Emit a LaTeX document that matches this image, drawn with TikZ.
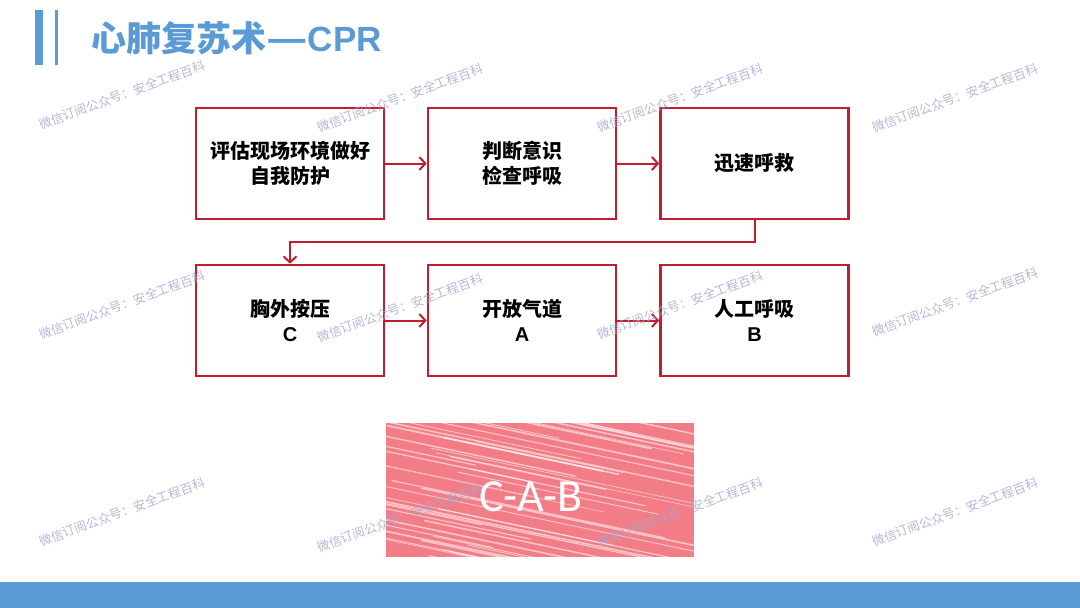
\documentclass[tikz,border=0pt]{standalone}
\usepackage{fontspec}
\setmainfont{Carlito}
\newfontfamily\cjk{Noto Sans CJK SC}
\newfontfamily\latinb{Liberation Sans}
\usetikzlibrary{arrows.meta}
\definecolor{boxred}{RGB}{190,30,45}
\definecolor{titleblue}{RGB}{91,155,213}
\definecolor{scribblepink}{RGB}{242,125,135}
\definecolor{wmcolor}{RGB}{165,165,205}
\begin{document}
\begin{tikzpicture}[x=1pt,y=-1pt,
  stepbox/.style={draw=boxred,line width=2.6pt,minimum width=188pt,minimum height=111pt,
    align=center,inner sep=0pt,font=\cjk\bfseries\fontsize{20}{25}\selectfont},
  link/.style={draw=boxred,line width=2pt,
    -{Straight Barb[length=6pt,width=13pt,line width=2pt]}},
  wmark/.style={text=wmcolor,font=\cjk\fontsize{12.5}{14}\selectfont,rotate=20,opacity=0.8}]
\useasboundingbox (0,0) rectangle (1080,608);
\fill[white] (0,0) rectangle (1080,608);

% header
\fill[titleblue] (35,10) rectangle (43,65);
\fill[titleblue] (54.5,10) rectangle (58,65);
\node[anchor=west,text=titleblue,inner sep=0pt,font=\cjk\bfseries\fontsize{35}{37}\selectfont] (title) at (91,38)
  {心肺复苏术\scalebox{1.3}[1]{—}{\latinb\bfseries\fontsize{35}{37}\selectfont CPR}};

% footer
\fill[titleblue] (0,582) rectangle (1080,608);

% boxes
\node[stepbox] (b1) at (290,163.5) {评估现场环境做好\\自我防护};
\node[stepbox] (b2) at (522,163.5) {判断意识\\检查呼吸};
\node[stepbox] (b3) at (754.5,163.5) {迅速呼救};
\node[stepbox] (b4) at (290,320.5) {胸外按压\\{\latinb\bfseries C}};
\node[stepbox] (b5) at (522,320.5) {开放气道\\{\latinb\bfseries A}};
\node[stepbox] (b6) at (754.5,320.5) {人工呼吸\\{\latinb\bfseries B}};

% connectors
\draw[link] (b1) -- (b2);
\draw[link] (b2) -- (b3);
\draw[link] (b3.south) -- ++(0,22) -| (b4.north);
\draw[link] (b4) -- (b5);
\draw[link] (b5) -- (b6);

% scribble panel
\begin{scope}
  \clip (386,423) rectangle (694,557);
  \fill[scribblepink] (386,423) rectangle (694,557);
  \pgfmathsetseed{7}
  \foreach \i in {0,...,50}{
    \pgfmathsetmacro\yy{356+\i*4.0+rnd*2}
    \pgfmathsetmacro\xs{386+rnd*160-70}
    \pgfmathsetmacro\len{140+rnd*260}
    \pgfmathsetmacro\lw{0.5+rnd*1.3}
    \draw[white,opacity=0.55,line width=\lw pt,line cap=round] (\xs,\yy) -- ++(\len,0.21*\len);
  }
\end{scope}
\node[text=white,inner sep=0pt,font=\fontsize{46}{50}\selectfont] (cab) at (531,497) {C-A-B};

% watermarks
\foreach \x/\y [count=\k] in {122/95,400/98,680/98,955/98,122/305,400/308,680/305,955/302,122/512,400/518,680/512,955/512}
  \node[wmark] (wm\k) at (\x,\y) {微信订阅公众号：安全工程百科};
\end{tikzpicture}
\end{document}
